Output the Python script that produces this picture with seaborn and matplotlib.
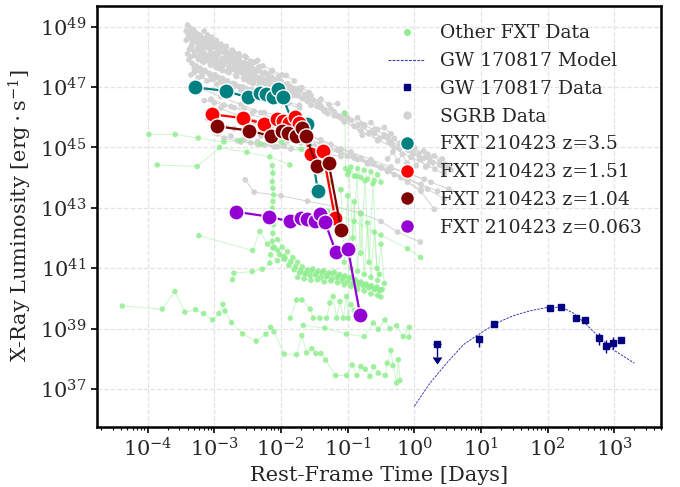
import numpy as np
import pandas as pd
import matplotlib
matplotlib.use('Agg')
import matplotlib.pyplot as plt
from matplotlib.lines import Line2D
from matplotlib.ticker import LogLocator, NullLocator, NullFormatter
import seaborn as sns

# all values are log10(rest-frame time / days) and log10(L_X / erg s^-1)

# FXT 210423 at four trial redshifts
teal_logt = [-3.29, -2.83, -2.50, -2.32, -2.23, -2.125, -2.04, -1.975, -1.79, -1.61, -1.445]
teal_logl = [46.99, 46.87, 46.66, 46.81, 46.76, 46.67, 46.93, 46.66, 45.67, 45.77, 43.57]
red_logt = [-3.04, -2.57, -2.25, -2.065, -1.975, -1.875, -1.79, -1.73, -1.55, -1.375, -1.19]
red_logl = [46.10, 45.97, 45.78, 45.94, 45.89, 45.82, 46.02, 45.80, 44.79, 44.89, 42.68]
maroon_logt = [-2.96, -2.48, -2.155, -1.99, -1.89, -1.78, -1.69, -1.63, -1.46, -1.285, -1.095]
maroon_logl = [45.70, 45.56, 45.38, 45.53, 45.47, 45.39, 45.64, 45.38, 44.40, 44.48, 42.27]
purple_logt = [-2.67, -2.185, -1.87, -1.70, -1.61, -1.495, -1.415, -1.34, -1.175, -0.995, -0.81]
purple_logl = [42.87, 42.71, 42.55, 42.67, 42.63, 42.55, 42.79, 42.53, 41.54, 41.64, 39.44]

# GW 170817
gw_logt = [0.965, 1.19, 2.04, 2.20, 2.42, 2.56, 2.77, 2.875, 2.98, 3.095]
gw_logl = [38.67, 39.15, 39.68, 39.72, 39.37, 39.29, 38.68, 38.44, 38.52, 38.63]
gw_logl_lo = [38.41, 39.08, 39.62, 39.66, 39.31, 39.23, 38.47, 38.21, 38.33, 38.54]
gw_logl_hi = [38.80, 39.22, 39.74, 39.78, 39.43, 39.35, 38.85, 38.63, 38.72, 38.72]
gw_ul_logt = [0.34]
gw_ul_logl = [38.49]
gw_ul_arrow = [38.05]
model_logt = [0.0, 0.235, 0.485, 0.735, 0.935, 1.235, 1.485, 1.73, 1.985, 2.21, 2.385, 2.585, 2.785, 2.985, 3.30]
model_logl = [36.43, 37.20, 37.86, 38.47, 38.77, 39.19, 39.43, 39.59, 39.70, 39.71, 39.52, 39.13, 38.69, 38.30, 37.86]

# SGRB light curves
sgrb_logt = [
    [-3.40, -3.36, -3.31, -3.27, -3.22, -3.16, -3.10, -3.03, -2.95, -2.86, -2.76, -2.65, -2.52, -2.38],
    [-3.42, -3.38, -3.33, -3.28, -3.23, -3.17, -3.11, -3.04, -2.96, -2.87, -2.77, -2.66, -2.54, -2.40, -2.25],
    [-3.40, -3.35, -3.30, -3.24, -3.18, -3.12, -3.05, -2.97, -2.88, -2.78, -2.67, -2.55, -2.42, -2.28, -2.12, -1.95],
    [-3.30, -3.25, -3.19, -3.13, -3.06, -2.99, -2.91, -2.82, -2.72, -2.61, -2.49, -2.36, -2.22, -2.07, -1.90, -1.72],
    [-3.10, -3.06, -3.01, -2.95, -2.89, -2.82, -2.74, -2.65, -2.55, -2.44, -2.32, -2.19, -2.05, -1.90, -1.74],
    [-2.95, -2.90, -2.84, -2.78, -2.71, -2.63, -2.55, -2.46, -2.36, -2.25, -2.13, -2.00, -1.86, -1.71, -1.55],
    [-3.25, -3.20, -3.14, -3.08, -3.01, -2.94, -2.86, -2.77, -2.67, -2.56, -2.44, -2.31, -2.17, -2.02, -1.86, -1.68],
    [-3.38, -3.33, -3.27, -3.21, -3.14, -3.07, -2.99, -2.90, -2.80, -2.69, -2.57, -2.44],
    [-2.80, -2.74, -2.67, -2.59, -2.50, -2.40, -2.29, -2.17, -2.04, -1.90, -1.75, -1.59, -1.42],
    [-3.15, -3.10, -3.04, -2.97, -2.90, -2.82, -2.73, -2.63, -2.52, -2.40, -2.27, -2.13, -1.98],
    [-3.00, -2.94, -2.87, -2.80, -2.72, -2.63, -2.53, -2.42, -2.30, -2.17, -2.03, -1.88, -1.72],
    [-2.60, -2.53, -2.45, -2.36, -2.26, -2.15, -2.03, -1.90, -1.76, -1.61, -1.45],
    [-2.40, -2.20, -2.00, -1.80, -1.60, -1.40, -1.20, -1.00, -0.80, -0.60, -0.40, -0.20, 0.00, 0.20, 0.42],
    [-2.10, -1.85, -1.60, -1.35, -1.10, -0.85, -0.60, -0.35, -0.10, 0.15, 0.40, 0.55],
    [-1.80, -1.55, -1.30, -1.05, -0.80, -0.55, -0.30, -0.05, 0.20, 0.45],
    [-0.75, -0.68, -0.60, -0.52, -0.45, -0.38, -0.30, -0.22, -0.15, -0.08, 0.00, 0.07, 0.14, 0.22, 0.30, 0.38, 0.46],
    [-1.20, -1.05, -0.90, -0.78, -0.66, -0.55, -0.44, -0.33, -0.22, -0.12, -0.02, 0.08, 0.18, 0.28],
    [-3.20, -2.90, -2.60, -2.30, -2.00, -1.70, -1.40, -1.10, -0.80, -0.50, -0.20, 0.10, 0.30],
    [-3.05, -2.75, -2.45, -2.15, -1.85, -1.55, -1.25, -0.95, -0.65, -0.35, -0.05, 0.25, 0.52],
    [-2.90, -2.65, -2.40, -2.15, -1.90, -1.65, -1.40, -1.15, -0.90, -0.65, -0.40, -0.15, 0.10, 0.35],
    [-3.10, -2.90, -2.70, -2.50, -2.30, -2.10, -1.90, -1.70, -1.50, -1.30, -1.10, -0.90, -0.70, -0.50, -0.30, -0.10, 0.10],
    [-2.85, -2.60, -2.35, -2.10, -1.85, -1.60, -1.35, -1.10, -0.85, -0.60, -0.35, -0.10, 0.15],
    [-2.535, -2.40, -2.00, -1.60, -1.20, -0.81, -0.50, -0.25, 0.09],
    [-2.20, -1.90, -1.60, -1.30, -1.00, -0.70, -0.40, -0.10, 0.20, 0.45],
    [-3.42, -3.39, -3.35, -3.32, -3.29, -3.25, -3.21, -3.17, -3.12, -3.07, -3.02, -2.96, -2.90],
    [-3.37, -3.34, -3.30, -3.26, -3.22, -3.18, -3.13, -3.08, -3.03, -2.97, -2.91, -2.85, -2.78, -2.70],
    [-3.28, -3.24, -3.20, -3.15, -3.10, -3.05, -2.99, -2.93, -2.86, -2.79, -2.71, -2.63, -2.54, -2.45, -2.35],
    [-3.20, -3.16, -3.11, -3.06, -3.00, -2.94, -2.88, -2.81, -2.74, -2.66, -2.58, -2.49, -2.40, -2.30, -2.20, -2.09],
    [-3.05, -3.00, -2.94, -2.88, -2.82, -2.75, -2.68, -2.60, -2.52, -2.43, -2.34, -2.24, -2.14, -2.03, -1.92, -1.80],
    [-2.70, -2.64, -2.58, -2.51, -2.44, -2.36, -2.28, -2.19, -2.10, -2.00, -1.90, -1.80, -1.69, -1.58],
    [-3.35, -3.30, -3.24, -3.18, -3.11, -3.04, -2.96, -2.88, -2.79, -2.70, -2.60, -2.50],
    [-3.15, -3.00, -2.85, -2.70, -2.55, -2.40, -2.25, -2.10, -1.95, -1.80],
    [-2.95, -2.85, -2.75, -2.65, -2.55, -2.45, -2.35, -2.25, -2.15, -2.05, -1.95],
    [-2.55, -2.48, -2.40, -2.32, -2.24, -2.15, -2.06, -1.96, -1.86, -1.75, -1.64, -1.52, -1.40, -1.28, -1.15],
    [-1.45, -1.35, -1.25, -1.15, -1.05, -0.95, -0.85, -0.75, -0.65, -0.55, -0.45, -0.35],
    [-0.40, -0.32, -0.25, -0.18, -0.11, -0.04, 0.03, 0.10, 0.17, 0.24, 0.31, 0.38, 0.45, 0.52],
]
sgrb_logl = [
    [49.05, 48.95, 48.90, 48.78, 48.72, 48.60, 48.52, 48.40, 48.30, 48.15, 48.02, 47.88, 47.70, 47.52],
    [48.55, 48.62, 48.45, 48.50, 48.35, 48.28, 48.30, 48.12, 48.05, 47.90, 47.82, 47.65, 47.55, 47.38, 47.20],
    [48.10, 48.00, 48.05, 47.92, 47.85, 47.88, 47.72, 47.65, 47.55, 47.48, 47.35, 47.25, 47.12, 46.98, 46.82, 46.68],
    [47.62, 47.55, 47.48, 47.50, 47.38, 47.30, 47.25, 47.15, 47.05, 46.98, 46.88, 46.78, 46.65, 46.55, 46.45, 46.30],
    [48.62, 48.55, 48.45, 48.38, 48.25, 48.18, 48.05, 47.95, 47.80, 47.68, 47.52, 47.40, 47.25, 47.10, 46.95],
    [48.40, 48.30, 48.22, 48.10, 48.02, 47.90, 47.80, 47.70, 47.58, 47.45, 47.32, 47.20, 47.02, 46.88, 46.72],
    [48.30, 48.18, 48.10, 48.02, 47.95, 47.82, 47.75, 47.62, 47.52, 47.40, 47.30, 47.15, 47.02, 46.90, 46.75, 46.62],
    [47.90, 47.78, 47.70, 47.62, 47.55, 47.45, 47.40, 47.28, 47.20, 47.10, 47.00, 46.92],
    [47.95, 47.85, 47.78, 47.65, 47.55, 47.45, 47.32, 47.20, 47.08, 46.95, 46.82, 46.66, 46.52],
    [48.85, 48.72, 48.65, 48.55, 48.42, 48.35, 48.22, 48.10, 47.98, 47.82, 47.70, 47.55, 47.40],
    [47.40, 47.32, 47.28, 47.18, 47.12, 47.02, 46.95, 46.85, 46.78, 46.66, 46.58, 46.48, 46.40],
    [47.55, 47.48, 47.38, 47.30, 47.20, 47.08, 46.98, 46.85, 46.72, 46.60, 46.45],
    [47.45, 47.22, 47.00, 46.80, 46.58, 46.38, 46.18, 45.98, 45.78, 45.58, 45.36, 45.16, 44.95, 44.78, 44.62],
    [47.05, 46.78, 46.52, 46.25, 45.98, 45.72, 45.46, 45.20, 44.92, 44.65, 44.40, 44.25],
    [46.72, 46.40, 46.12, 45.85, 45.55, 45.25, 44.98, 44.68, 44.40, 44.12],
    [45.70, 45.45, 45.58, 45.30, 45.42, 45.18, 45.30, 45.05, 45.15, 44.90, 45.00, 44.78, 44.88, 44.65, 44.72, 44.52, 44.45],
    [46.05, 45.85, 45.70, 45.40, 45.50, 45.22, 45.35, 45.10, 44.95, 45.05, 44.80, 44.62, 44.70, 44.50],
    [46.95, 46.68, 46.42, 46.15, 45.85, 45.55, 45.25, 44.95, 44.65, 44.35, 44.00, 43.55, 42.95],
    [46.60, 46.35, 46.10, 45.88, 45.62, 45.35, 45.10, 44.85, 44.60, 44.35, 44.10, 43.85, 43.62],
    [46.30, 46.05, 45.85, 45.65, 45.48, 45.30, 45.12, 44.92, 44.70, 44.48, 44.25, 44.02, 43.78, 43.55],
    [45.95, 45.80, 45.62, 45.50, 45.38, 45.30, 45.22, 45.15, 45.05, 44.95, 44.80, 44.65, 44.50, 44.32, 44.10, 43.85, 43.60],
    [45.30, 45.18, 45.10, 45.02, 44.95, 44.88, 44.80, 44.70, 44.60, 44.45, 44.30, 44.15, 43.95],
    [43.93, 43.52, 43.40, 43.22, 43.05, 42.83, 42.55, 42.20, 41.87],
    [45.80, 45.55, 45.28, 45.00, 44.72, 44.45, 44.20, 43.95, 43.62, 43.30],
    [48.85, 48.70, 48.78, 48.60, 48.66, 48.48, 48.55, 48.40, 48.45, 48.28, 48.32, 48.15, 48.20],
    [48.25, 48.35, 48.18, 48.22, 48.05, 48.12, 47.98, 48.02, 47.88, 47.92, 47.78, 47.80, 47.66, 47.70],
    [48.75, 48.62, 48.68, 48.50, 48.55, 48.38, 48.42, 48.25, 48.30, 48.12, 48.15, 47.98, 48.02, 47.85, 47.88],
    [47.95, 47.82, 47.88, 47.75, 47.78, 47.62, 47.68, 47.52, 47.58, 47.42, 47.48, 47.32, 47.36, 47.20, 47.25, 47.08],
    [48.15, 48.05, 48.10, 47.95, 48.00, 47.85, 47.88, 47.72, 47.78, 47.60, 47.65, 47.48, 47.52, 47.35, 47.38, 47.20],
    [47.65, 47.52, 47.58, 47.42, 47.46, 47.30, 47.35, 47.20, 47.22, 47.08, 47.10, 46.95, 46.98, 46.82],
    [47.40, 47.48, 47.30, 47.35, 47.20, 47.25, 47.10, 47.14, 47.00, 47.02, 46.90, 46.92],
    [46.55, 46.48, 46.40, 46.32, 46.28, 46.20, 46.15, 46.08, 46.02, 45.95],
    [45.45, 45.30, 45.38, 45.22, 45.28, 45.15, 45.20, 45.08, 45.12, 45.02, 45.05],
    [47.30, 47.18, 47.22, 47.08, 47.12, 46.98, 47.00, 46.85, 46.88, 46.72, 46.75, 46.58, 46.60, 46.42, 46.45],
    [46.35, 46.20, 46.28, 46.05, 46.12, 45.90, 45.98, 45.75, 45.82, 45.60, 45.66, 45.45],
    [44.62, 44.85, 44.55, 44.78, 44.48, 44.70, 44.40, 44.62, 44.35, 44.55, 44.28, 44.45, 44.20, 44.35],
]

# other FXT light curves
other_logt = [
    [-3.98, -3.585, -3.24, -2.855, -2.61, -2.30, -1.99, -1.695, -1.55, -1.40, -1.25, -1.10],
    [-3.855, -3.255, -2.92, -2.51, -2.165, -1.865],
    [-2.13, -2.12, -2.13, -2.12, -2.11, -2.12, -2.13, -2.12, -2.11, -2.12, -2.13, -2.12, -1.94],
    [-1.04, -1.03, -1.00, -0.95, -0.90, -0.85, -0.80, -0.75, -0.70, -0.65, -0.60, -0.55, -0.50],
    [-1.10, -1.05, -1.00, -0.95, -0.90, -0.85, -0.80, -0.75, -0.70, -0.65, -0.60, -0.55, -0.50, -0.45],
    [-0.98, -0.92, -0.86, -0.80, -0.74, -0.68, -0.62, -0.56, -0.52],
    [-2.10, -2.02, -1.95, -1.88, -1.80, -1.72, -1.64, -1.56, -1.48, -1.40, -1.32, -1.24, -1.16, -1.08, -1.00, -0.92, -0.84, -0.76, -0.68, -0.60, -0.52],
    [-2.05, -1.98, -1.90, -1.82, -1.75, -1.68, -1.60, -1.52, -1.44, -1.36, -1.28, -1.20, -1.12, -1.04, -0.96, -0.88, -0.80, -0.72, -0.64, -0.56, -0.48],
    [-1.95, -1.85, -1.78, -1.70, -1.62, -1.55, -1.47, -1.38, -1.30, -1.22, -1.14, -1.06, -0.98, -0.90, -0.82, -0.74, -0.66, -0.58, -0.50],
    [-1.75, -1.65, -1.55, -1.45, -1.35, -1.25, -1.15, -1.05, -0.95, -0.85, -0.75, -0.65, -0.55, -0.50],
    [-3.23, -2.425, -2.315, -2.20, -2.05],
    [-2.725, -2.705, -2.43, -2.28, -2.165, -2.155, -2.05],
    [-4.38, -3.78, -3.59, -3.44, -3.28, -3.16, -3.025, -2.93, -2.87, -2.84, -2.74, -2.575, -2.37, -2.225,
     -2.155, -2.105, -1.95, -1.765, -1.685, -1.615, -1.535, -1.475, -1.40, -1.33, -1.18, -1.015, -0.93,
     -0.86, -0.80, -0.735, -0.665, -0.61, -0.54, -0.435, -0.405, -0.35, -0.32, -0.265, -0.24, -0.215],
    [-1.86, -1.765, -1.685, -1.56, -1.515, -1.415, -1.315, -1.265, -1.215, -1.165, -1.115, -1.065, -1.015, -0.99, -0.95, -0.90],
    [-1.665, -1.34, -1.015, -0.75, -0.615, -0.54, -0.44, -0.365, -0.265, -0.165, -0.075, -0.08],
    [-1.30, -0.90, -0.50, -0.10, 0.095],
]
other_logl = [
    [45.43, 45.43, 45.31, 45.18, 45.23, 45.11, 45.17, 44.94, 44.60, 44.20, 43.85, 43.60],
    [44.42, 44.37, 45.00, 44.84, 44.69, 44.42],
    [44.40, 44.15, 43.87, 43.65, 43.43, 43.21, 42.99, 42.71, 42.44, 42.16, 41.89, 41.67, 41.34],
    [46.14, 44.30, 44.10, 44.35, 44.05, 44.30, 44.00, 44.25, 43.95, 44.20, 43.90, 44.10, 43.85],
    [43.60, 41.20, 43.40, 41.00, 43.20, 40.90, 42.80, 40.80, 42.50, 40.70, 42.20, 40.60, 41.80, 40.50],
    [44.20, 42.00, 44.05, 41.50, 43.90, 41.20, 43.80, 41.00, 40.80],
    [41.70, 41.45, 41.30, 41.10, 40.95, 40.85, 40.80, 40.75, 40.78, 40.70, 40.72, 40.65, 40.68, 40.60, 40.55, 40.50, 40.45, 40.40, 40.35, 40.30, 40.25],
    [41.95, 41.70, 41.55, 41.35, 41.20, 41.05, 40.95, 40.98, 40.90, 40.92, 40.85, 40.88, 40.80, 40.75, 40.70, 40.62, 40.55, 40.48, 40.42, 40.38, 40.30],
    [41.40, 41.22, 41.05, 40.92, 40.85, 40.90, 40.82, 40.85, 40.78, 40.82, 40.74, 40.70, 40.66, 40.60, 40.52, 40.46, 40.40, 40.32, 40.28],
    [40.70, 40.65, 40.60, 40.62, 40.55, 40.58, 40.52, 40.45, 40.40, 40.30, 40.25, 40.15, 40.10, 40.05],
    [42.08, 41.59, 42.22, 41.80, 41.60],
    [40.62, 40.84, 40.89, 40.97, 41.17, 41.45, 41.25],
    [39.75, 39.65, 40.23, 39.55, 39.63, 39.50, 39.29, 39.50, 39.81, 39.59, 39.20, 38.83, 38.59, 38.82,
     39.05, 38.90, 38.16, 38.14, 38.77, 38.20, 38.34, 38.18, 38.18, 37.96, 37.45, 37.45, 37.80,
     37.45, 37.75, 37.66, 37.42, 37.74, 37.53, 37.45, 37.86, 38.28, 37.78, 37.20, 37.97, 37.29],
    [39.35, 39.95, 39.95, 39.65, 39.35, 39.35, 39.35, 39.85, 40.07, 39.35, 39.90, 39.35, 40.07, 39.35, 39.80, 39.60],
    [39.11, 39.02, 38.82, 38.74, 39.19, 38.98, 39.29, 39.00, 39.10, 38.74, 39.05, 38.72],
    [42.90, 42.55, 42.10, 41.65, 41.36],
]


def curves_to_df(logt, logl):
    rows = []
    for i, (ts, ls) in enumerate(zip(logt, logl)):
        for t, l in zip(ts, ls):
            rows.append((i, 10.0 ** t, 10.0 ** l))
    return pd.DataFrame(rows, columns=['curve', 'time', 'lum'])


sgrb_df = curves_to_df(sgrb_logt, sgrb_logl)
other_df = curves_to_df(other_logt, other_logl)

sns.set_style('whitegrid', {'grid.linestyle': '--', 'grid.color': '#e3e3e3',
                            'axes.edgecolor': 'black', 'xtick.bottom': True,
                            'ytick.left': True})
plt.rcParams['font.family'] = ['DejaVu Serif']
plt.rcParams['mathtext.fontset'] = 'dejavuserif'

fig = plt.figure(figsize=(6.8, 4.87), dpi=100)
ax = fig.add_axes([0.142, 0.124, 0.830, 0.8645])
ax.set(xscale='log', yscale='log')

grey = '#d3d3d3'
green = '#90ee90'

# SGRB
sns.lineplot(data=sgrb_df, x='time', y='lum', units='curve', estimator=None, sort=False,
             color=grey, lw=0.7, ax=ax, legend=False, zorder=1)
sns.scatterplot(data=sgrb_df, x='time', y='lum', color=grey, s=17, edgecolor='none',
                ax=ax, legend=False, zorder=1)

# other FXTs
sns.lineplot(data=other_df, x='time', y='lum', units='curve', estimator=None, sort=False,
             color=green, lw=0.7, alpha=0.45, ax=ax, legend=False, zorder=2)
sns.scatterplot(data=other_df, x='time', y='lum', color=green, s=16, alpha=0.85,
                edgecolor='none', ax=ax, legend=False, zorder=2)

# GW 170817
model_col = '#3a3ab5'
gw_t = 10.0 ** np.array(gw_logt)
gw_l = 10.0 ** np.array(gw_logl)
gw_err = [gw_l - 10.0 ** np.array(gw_logl_lo), 10.0 ** np.array(gw_logl_hi) - gw_l]
sns.lineplot(x=10.0 ** np.array(model_logt), y=10.0 ** np.array(model_logl), sort=False,
             color=model_col, lw=0.7, ax=ax, zorder=3)
ax.lines[-1].set_linestyle((0, (2.5, 1.2)))
ax.errorbar(gw_t, gw_l, yerr=gw_err, fmt='s', color='navy', ms=4.5, elinewidth=1, capsize=0, zorder=4)
ul_l = 10.0 ** np.array(gw_ul_logl)
ax.errorbar(10.0 ** np.array(gw_ul_logt), ul_l, yerr=[ul_l - 10.0 ** np.array(gw_ul_arrow), [0]],
            uplims=True, fmt='s', color='navy', ms=4.5, elinewidth=1, capsize=3, zorder=4)

# FXT 210423
fxt = [
    (teal_logt, teal_logl, 'teal', 'FXT 210423 z=3.5'),
    (red_logt, red_logl, 'red', 'FXT 210423 z=1.51'),
    (maroon_logt, maroon_logl, 'maroon', 'FXT 210423 z=1.04'),
    (purple_logt, purple_logl, 'darkviolet', 'FXT 210423 z=0.063'),
]
for k, (lt, ll, col, lab) in enumerate(fxt):
    t = 10.0 ** np.array(lt)
    l = 10.0 ** np.array(ll)
    sns.lineplot(x=t, y=l, sort=False, color=col, lw=1.6, ax=ax, zorder=5 + 2 * k)
    sns.scatterplot(x=t, y=l, color=col, s=120, edgecolor='white', linewidth=1,
                    ax=ax, zorder=6 + 2 * k)

ax.set_xlim(1.72e-5, 5.0e3)
ax.set_ylim(5.75e35, 4.95e49)
ax.set_yticks(10.0 ** np.arange(37, 50, 2))
ax.yaxis.set_minor_locator(NullLocator())
ax.xaxis.set_major_locator(LogLocator(base=10, numticks=20))
ax.xaxis.set_minor_locator(LogLocator(base=10, subs=np.arange(2, 10), numticks=20))
ax.xaxis.set_minor_formatter(NullFormatter())
ax.tick_params(axis='both', which='major', labelsize=15, length=4, width=1.2, color='black', direction='out')
ax.tick_params(axis='x', which='minor', length=2, width=0.8, color='black', direction='out')
ax.grid(True, which='major', linestyle='--', color='#e3e3e3', lw=0.9)
for sp in ax.spines.values():
    sp.set_linewidth(1.8)
    sp.set_color('black')

ax.set_xlabel('Rest-Frame Time [Days]', fontsize=15)
ax.set_ylabel(r'X-Ray Luminosity [$\mathrm{erg \cdot s^{-1}}$]', fontsize=15)

handles = [
    Line2D([], [], ls='none', marker='o', ms=4, color=green, label='Other FXT Data'),
    Line2D([], [], ls=(0, (2.5, 1.2)), lw=0.8, color=model_col, label='GW 170817 Model'),
    Line2D([], [], ls='none', marker='s', ms=4, color='navy', label='GW 170817 Data'),
    Line2D([], [], ls='none', marker='o', ms=5, color=grey, label='SGRB Data'),
]
for lt, ll, col, lab in fxt:
    handles.append(Line2D([], [], ls='none', marker='o', ms=10, color=col, mec='white', label=lab))
ax.legend(handles=handles, loc='upper right', frameon=False, fontsize=13.5, labelspacing=0.52,
          handletextpad=0.8, borderaxespad=0.6)

fig.savefig('out.png', dpi=100)
